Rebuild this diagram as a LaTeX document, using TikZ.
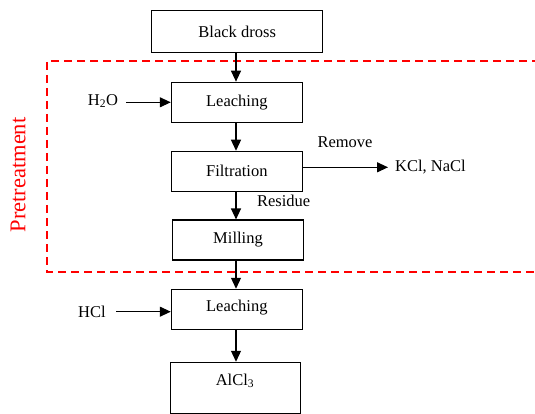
\documentclass[tikz,border=0pt]{standalone}
\usepackage{fontspec}
\setmainfont{Liberation Serif}
\usetikzlibrary{arrows.meta}
\begin{document}
\begin{tikzpicture}[x=1pt,y=-1pt,
  box/.style={draw=black, line width=1.1pt, minimum width=131pt, minimum height=40pt, inner sep=0pt, font=\fontsize{16.5}{19}\selectfont},
  lbl/.style={font=\fontsize{16.5}{19}\selectfont, inner sep=0pt},
  flow/.style={line width=1.2pt, -{Triangle[length=11pt,width=10pt]}}]
\useasboundingbox (0,0) rectangle (535,414);
\fill[white] (0,0) rectangle (535,414);
% dashed pretreatment region
\draw[red, line width=1.8pt, dash pattern=on 8pt off 5pt] (540,61.3) -- (46.7,61.3) -- (46.7,271.7) -- (540,271.7);
\node[lbl, red, rotate=90, font=\fontsize{22.5}{26}\selectfont] (pre) at (18,175) {Pretreatment};
% boxes
\node[box, minimum width=171pt, minimum height=42.4pt] (dross) at (237.2,31.5) {Black dross};
\node[box] (leach1) at (236.8,102.2) {Leaching};
\node[box] (filt) at (236.8,171.3) {Filtration};
\node[box] (mill) at (238,240) {Milling};
\node[box] (leach2) at (236.8,309.3) {};
\node[lbl] (leach2t) at (236.8,307.3) {Leaching};
\node[box, minimum width=130.7pt, minimum height=51pt] (alcl) at (235.4,387.8) {};
\node[lbl] (alclt) at (235,381) {AlCl\textsubscript{3}};
% side labels
\node[lbl] (h2o) at (103,101) {H\textsubscript{2}O};
\node[lbl] (hcl) at (92,311.7) {HCl};
\node[lbl] (rem) at (345,142.3) {Remove};
\node[lbl] (res) at (283.7,200.7) {Residue};
\node[lbl, anchor=west] (kcl) at (395,167.3) {KCl, NaCl};
\coordinate (h2os) at (126,102.3);
\coordinate (hcls) at (116,311.7);
\coordinate (kcle) at (388,167.3);
% connectors
\draw[flow] (dross.south -| 236,0) -- (leach1.north -| 236,0);
\draw[flow] (leach1.south -| 236,0) -- (filt.north -| 236,0);
\draw[flow] (filt.south -| 236,0) -- (mill.north -| 236,0);
\draw[flow] (mill.south -| 236,0) -- (leach2.north -| 236,0);
\draw[flow] (leach2.south -| 236,0) -- (alcl.north -| 236,0);
\draw[flow] (h2os) -- (h2os -| leach1.west);
\draw[flow] (hcls) -- (hcls -| leach2.west);
\draw[flow] (kcle -| filt.east) -- (kcle);
\end{tikzpicture}
\end{document}
